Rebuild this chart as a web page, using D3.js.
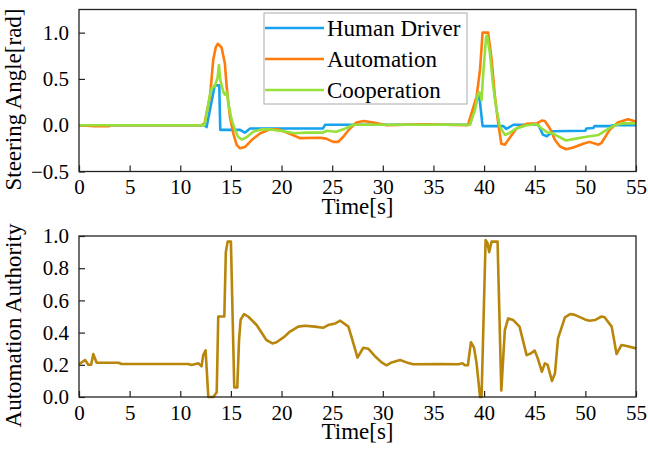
<html>
<head>
<meta charset="utf-8">
<script src="https://d3js.org/d3.v7.min.js"></script>
<style>
  body { margin: 0; background: white; }
  text { font-family: "Liberation Serif", "DejaVu Serif", serif; fill: black; }
</style>
</head>
<body>
<svg id="chart" width="648" height="451"></svg>
<script>
// steering angle [rad]
const humanT = [0, 12.4, 12.6, 13.4, 13.85, 13.95, 15.9, 16.2, 16.4, 16.9, 24.1, 24.3, 38.6, 39.5, 39.85, 41.9, 42.2, 42.9, 45.35, 45.8, 46.2, 46.8, 50.0, 50.1, 50.8, 50.9, 52.5, 52.7, 55];
const humanV = [0, 0, -0.02, 0.43, 0.43, -0.05, -0.05, -0.07, -0.08, -0.035, -0.035, 0.005, 0.005, 0.35, -0.01, -0.01, -0.04, 0.005, 0.005, -0.1, -0.12, -0.065, -0.06, -0.035, -0.03, -0.01, -0.01, 0, 0];

const autoT = [0, 1.5, 3, 3.1, 12.1, 12.4, 12.93, 13.26, 13.5, 13.7, 14.08, 14.4, 14.58, 14.9, 15.23, 15.57, 15.9, 16.4, 17.05, 17.9, 18.85, 19.7, 21, 21.8, 23.8, 24.4, 25.1, 25.6, 26.1, 26.75, 27.4, 28.1, 29.05, 30.4, 34, 38.4, 39.26, 39.6, 39.85, 40.4, 40.74, 41.07, 41.4, 41.7, 42.05, 42.5, 43.2, 44.2, 45.2, 45.7, 46.0, 46.5, 47, 47.5, 48.1, 48.8, 49.8, 50.4, 51.3, 51.6, 52.4, 53.2, 54.2, 55];
const autoV = [0, -0.01, -0.01, 0, 0, 0.02, 0.31, 0.71, 0.84, 0.88, 0.84, 0.67, 0.42, 0.095, -0.087, -0.213, -0.25, -0.235, -0.16, -0.087, -0.045, -0.045, -0.1, -0.14, -0.135, -0.145, -0.18, -0.18, -0.125, -0.035, 0.03, 0.045, 0.03, 0.0, 0.01, 0.0, 0.31, 0.6, 1.0, 1.0, 0.71, 0.31, 0.02, -0.2, -0.21, -0.14, -0.035, 0.015, 0.02, 0.05, 0.045, -0.035, -0.16, -0.23, -0.26, -0.24, -0.2, -0.18, -0.21, -0.19, -0.05, 0.03, 0.065, 0.04];

const coopT = [0, 12.4, 12.9, 13.1, 13.4, 13.68, 13.82, 13.95, 14.25, 14.4, 14.6, 14.74, 15.07, 15.4, 15.7, 16.06, 16.55, 17.2, 18.0, 18.85, 20, 21.3, 22.5, 24.1, 24.45, 25.4, 26.3, 27.1, 38.6, 39.1, 39.4, 39.6, 39.75, 39.9, 40.2, 40.3, 40.57, 40.9, 41.23, 41.56, 42.05, 42.4, 43.2, 44.2, 45.2, 45.7, 46.2, 46.8, 48.1, 48.8, 49.8, 51.3, 52.1, 52.9, 53.7, 55];
const coopV = [0, 0, 0.31, 0.4, 0.42, 0.51, 0.65, 0.49, 0.36, 0.33, 0.36, 0.24, 0.06, -0.05, -0.125, -0.155, -0.13, -0.07, -0.045, -0.045, -0.062, -0.087, -0.08, -0.08, -0.06, -0.07, -0.035, 0.005, 0.005, 0.165, 0.345, 0.35, 0.27, 0.53, 0.96, 0.97, 0.78, 0.42, 0.165, -0.015, -0.105, -0.09, -0.035, 0, 0.01, -0.035, -0.075, -0.09, -0.165, -0.15, -0.13, -0.105, -0.05, 0, 0.02, 0.02];

// automation authority
const authT = [0, 0.6, 0.92, 1.2, 1.41, 1.74, 3.9, 4.2, 10.8, 11.1, 11.8, 12.1, 12.27, 12.5, 12.77, 13.26, 13.6, 13.75, 14.35, 14.5, 14.68, 15.0, 15.33, 15.63, 15.8, 15.96, 16.29, 16.7, 17.54, 18.5, 19.1, 19.5, 20.3, 20.8, 21.65, 22.3, 23.3, 24.1, 24.6, 25.3, 25.8, 26.6, 26.9, 27.5, 28.07, 28.56, 29.2, 29.88, 30.37, 30.87, 31.7, 32.35, 33.0, 35.6, 37.45, 37.9, 38.1, 38.4, 38.7, 39.0, 39.26, 39.6, 39.75, 40.15, 40.34, 40.5, 40.74, 41.33, 41.7, 42.05, 42.38, 42.88, 43.5, 44.2, 44.6, 45.0, 45.3, 45.7, 46.0, 46.27, 46.7, 47.0, 47.3, 47.98, 48.5, 48.96, 49.95, 50.4, 50.94, 51.6, 51.9, 52.6, 53.08, 53.57, 54.07, 55];
const authV = [0.203, 0.23, 0.2, 0.2, 0.267, 0.213, 0.213, 0.205, 0.205, 0.199, 0.209, 0.19, 0.26, 0.29, 0.0, 0.0, 0.03, 0.5, 0.5, 0.9, 0.965, 0.965, 0.06, 0.06, 0.35, 0.48, 0.515, 0.5, 0.447, 0.354, 0.333, 0.34, 0.375, 0.405, 0.437, 0.443, 0.437, 0.43, 0.447, 0.457, 0.474, 0.437, 0.375, 0.245, 0.306, 0.3, 0.255, 0.215, 0.197, 0.215, 0.23, 0.215, 0.203, 0.205, 0.203, 0.209, 0.197, 0.197, 0.34, 0.308, 0.209, 0.0, 0.0, 0.975, 0.955, 0.9, 0.965, 0.965, 0.04, 0.416, 0.488, 0.478, 0.437, 0.26, 0.27, 0.288, 0.24, 0.157, 0.209, 0.2, 0.1, 0.147, 0.364, 0.495, 0.515, 0.51, 0.482, 0.474, 0.478, 0.5, 0.495, 0.437, 0.267, 0.323, 0.317, 0.302];

const seriesNames = ["Human Driver", "Automation", "Cooperation"];
const seriesColors = ["#17a2f0", "#ff7b0c", "#97e03a"];
const xTicks = [0, 5, 10, 15, 20, 25, 30, 35, 40, 45, 50, 55];
const steerTicks = [-0.5, 0, 0.5, 1.0];
const authTicks = [0, 0.2, 0.4, 0.6, 0.8, 1.0];

const svg = d3.select("#chart");
const left = 79, right = 636;
const fs = 21;   // tick labels
const lfs = 23;  // axis labels and legend
const serif = "'Liberation Serif', 'DejaVu Serif', serif";

function zip(ts, vs) { return ts.map((t, i) => [t, vs[i]]); }

function panel(top, bottom, domain, yTicks, yFmt, yLabel) {
  var x = d3.scaleLinear().domain([0, 55]).range([left, right]);
  var y = d3.scaleLinear().domain(domain).range([bottom, top]);
  var g = svg.append("g");

  g.append("g")
    .attr("transform", "translate(0," + bottom + ")")
    .call(d3.axisBottom(x).tickValues(xTicks).tickSizeInner(-6).tickSizeOuter(0).tickPadding(8))
    .attr("font-family", serif).attr("font-size", fs)
    .call(a => a.select(".domain").remove());

  g.append("g")
    .attr("transform", "translate(" + left + ",0)")
    .call(d3.axisLeft(y).tickValues(yTicks).tickFormat(yFmt).tickSizeInner(-6).tickSizeOuter(0).tickPadding(10))
    .attr("font-family", serif).attr("font-size", fs)
    .call(a => a.select(".domain").remove());

  g.selectAll(".tick text").attr("fill", "black");
  g.selectAll(".tick line").attr("stroke", "#222").attr("stroke-width", 1.2);

  // x label
  g.append("text")
    .attr("x", (left + right) / 2)
    .attr("y", bottom + 42)
    .attr("text-anchor", "middle")
    .style("font-size", lfs + "px")
    .text("Time[s]");

  // y label
  g.append("text")
    .attr("transform", "translate(21," + ((top + bottom) / 2 + 9) + ") rotate(-90)")
    .attr("text-anchor", "middle")
    .style("font-size", lfs + "px")
    .text(yLabel);

  return {x: x, y: y, g: g, top: top, bottom: bottom};
}

function frame(p) {
  p.g.append("rect")
    .attr("x", left).attr("y", p.top)
    .attr("width", right - left).attr("height", p.bottom - p.top)
    .attr("fill", "none").attr("stroke", "#222").attr("stroke-width", 1.3);
}

// upper panel
var p1 = panel(9.5, 171.5, [-0.5, 1.25], steerTicks,
  d => d3.format(".1f")(d).replace("-", "\u2212"), "Steering Angle[rad]");
var line1 = d3.line().x(d => p1.x(d[0])).y(d => p1.y(d[1]));
var steerData = [zip(humanT, humanV), zip(autoT, autoV), zip(coopT, coopV)];
steerData.forEach(function(s, i) {
  p1.g.append("path").datum(s)
    .attr("d", line1)
    .attr("fill", "none")
    .attr("stroke", seriesColors[i])
    .attr("stroke-width", 2.6)
    .attr("stroke-linejoin", "round");
});
frame(p1);

// legend
var leg = p1.g.append("g");
leg.append("rect")
  .attr("x", 264).attr("y", 13).attr("width", 203).attr("height", 91)
  .attr("fill", "white").attr("stroke", "#aaaaaa").attr("stroke-width", 1);
seriesNames.forEach(function(n, i) {
  var ly = 28 + i * 31;
  leg.append("line")
    .attr("x1", 265).attr("x2", 324).attr("y1", ly).attr("y2", ly)
    .attr("stroke", seriesColors[i]).attr("stroke-width", 2.6);
  leg.append("text")
    .attr("x", 327).attr("y", ly + 8)
    .style("font-size", lfs + "px")
    .text(n);
});

// lower panel
var p2 = panel(236, 397, [0, 1], authTicks, d3.format(".1f"), "Automation Authority");
var line2 = d3.line().x(d => p2.x(d[0])).y(d => p2.y(d[1]));
p2.g.append("path").datum(zip(authT, authV))
  .attr("d", line2)
  .attr("fill", "none")
  .attr("stroke", "#b8860b")
  .attr("stroke-width", 2.6)
  .attr("stroke-linejoin", "round");
frame(p2);
</script>
</body>
</html>
